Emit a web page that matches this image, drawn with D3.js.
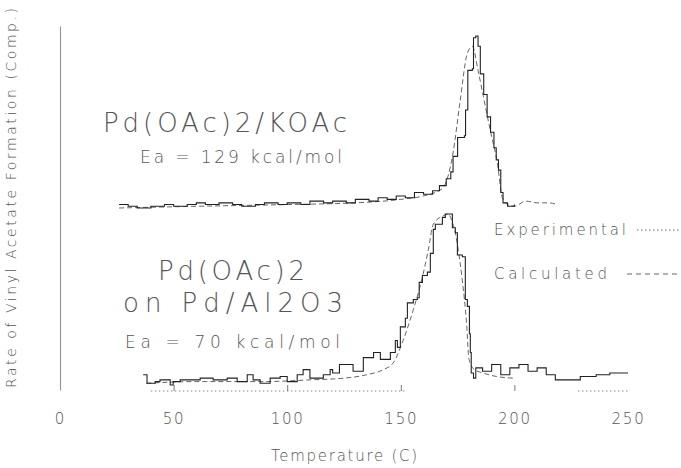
<!DOCTYPE html>
<html>
<head>
<meta charset="utf-8">
<script src="https://cdn.jsdelivr.net/npm/d3@7"></script>
<style>
  body { margin: 0; background: #fff; }
  svg { display: block; }
  text { font-family: "DejaVu Sans", sans-serif; font-weight: 200; fill: #555; }
</style>
</head>
<body>
<svg id="chart"></svg>
<script>
// temperature (C), rate (normalised to peak)
var topExperimental = [
  [26, 0.02], [30, 0.01], [34, 0.0], [40, 0.01], [46, 0.02], [50, 0.01], [56, 0.02],
  [60, 0.03], [64, 0.02], [70, 0.03], [76, 0.02], [80, 0.01], [86, 0.02], [90, 0.03],
  [96, 0.02], [100, 0.03], [106, 0.02], [110, 0.04], [116, 0.03], [120, 0.04], [126, 0.03],
  [130, 0.05], [136, 0.04], [140, 0.06], [144, 0.05], [148, 0.07], [152, 0.06], [156, 0.09],
  [160, 0.08], [164, 0.10], [167, 0.13], [170, 0.17], [172, 0.21], [173, 0.30], [175, 0.41],
  [178, 0.42], [178.5, 0.57], [179.5, 0.80], [181.5, 0.81], [182, 0.99], [183, 1.0],
  [184, 0.94], [185, 0.78], [186.5, 0.66], [188, 0.53], [189.5, 0.44], [191, 0.35],
  [192, 0.28], [193, 0.22], [194, 0.09], [195, 0.03], [197, 0.01], [200, 0.02]
];
var topCalculated = [
  [26, 0.0], [60, 0.01], [100, 0.02], [130, 0.03], [150, 0.05], [160, 0.07], [165, 0.09],
  [168.7, 0.12], [173, 0.32], [176, 0.61], [179.3, 0.90], [181.5, 0.94], [184, 0.80],
  [186.3, 0.65], [189.4, 0.45], [192.5, 0.26], [194.7, 0.06], [197, 0.02], [200, 0.01],
  [205, 0.04], [210, 0.03], [215, 0.03], [219, 0.02]
];
var bottomExperimental = [
  [36.6, 0.06], [38.3, 0.01], [41.9, 0.02], [44, 0.03], [48.5, 0.0], [49.8, 0.02], [52.9, 0.03],
  [57.3, 0.03], [61.7, 0.04], [67.4, 0.03], [73.6, 0.04], [78, 0.02], [82.4, 0.06], [85, 0.03],
  [88.1, 0.01], [92.5, 0.04], [96.9, 0.05], [100, 0.02], [104.4, 0.06], [107, 0.09], [110, 0.04],
  [115.9, 0.06], [118.9, 0.09], [120, 0.07], [123, 0.12], [129, 0.08], [133.5, 0.16],
  [138, 0.19], [141, 0.15], [145.4, 0.19], [147.6, 0.26], [148.5, 0.22], [149.8, 0.34],
  [152, 0.39], [152.9, 0.48], [155.5, 0.50], [157.3, 0.51], [158.1, 0.60], [159.5, 0.64],
  [161.7, 0.66], [163, 0.77], [164.3, 0.91], [165.2, 0.94], [168.3, 0.98], [169.6, 1.0],
  [172.7, 0.92], [174, 0.89], [174.9, 0.76], [177.1, 0.75], [178.4, 0.50], [179.3, 0.46],
  [180.2, 0.30], [180.6, 0.19], [181, 0.07], [182, 0.04], [183, 0.10], [186, 0.08],
  [190, 0.12], [194, 0.06], [198, 0.10], [202, 0.12], [206, 0.08], [210, 0.10], [214, 0.06],
  [218, 0.03], [229, 0.05], [236, 0.06], [242, 0.07], [250, 0.07]
];
var bottomCalculated = [
  [38, 0.01], [60, 0.02], [90, 0.02], [110, 0.03], [125, 0.04], [135, 0.06], [142.3, 0.09],
  [146.7, 0.13], [151, 0.26], [155.5, 0.44], [159.5, 0.63], [162.1, 0.79], [164.3, 0.94],
  [168.7, 0.99], [170.9, 1.0], [172.7, 0.95], [174, 0.89], [175.3, 0.79], [177, 0.62],
  [179, 0.35], [180, 0.15], [182.4, 0.09], [186.3, 0.07], [192, 0.05], [200, 0.04]
];
var baselineSegments = [[40, 152], [228, 250]];
var tempTicks = [0, 50, 100, 150, 200, 250];
var panelTitles = ["Pd(OAc)2/KOAc", "Pd(OAc)2", "on  Pd/Al2O3"];
var activationLabels = ["Ea  =  129  kcal/mol", "Ea  =  70  kcal/mol"];
var legendNames = ["Experimental", "Calculated"];

var width = 681, height = 468;
var svg = d3.select("#chart").attr("width", width).attr("height", height);

var x = d3.scaleLinear().domain([0, 250]).range([60, 628]);
var yTop = d3.scaleLinear().domain([0, 1]).range([208, 36]);
var yBottom = d3.scaleLinear().domain([0, 1]).range([385, 214]);
var yFrame = d3.scaleLinear().domain([0, 1]).range([390, 26]);

// y axis line
svg.append("g")
  .attr("transform", "translate(60,0)")
  .call(d3.axisLeft(yFrame).tickValues([]).tickSizeOuter(0))
  .select(".domain").attr("stroke", "#999").attr("stroke-width", 1.2);

// x axis labels with little ticks at the lower baseline
var xAxis = svg.append("g")
  .attr("transform", "translate(0,391)")
  .call(d3.axisBottom(x).tickValues(tempTicks).tickSize(-6).tickPadding(22));
xAxis.select(".domain").remove();
xAxis.selectAll(".tick line").attr("stroke", "#777");
xAxis.selectAll(".tick").filter(function(d) { return d === 0 || d === 250; })
  .select("line").remove();
xAxis.selectAll("text")
  .attr("font-family", "DejaVu Sans").attr("font-size", 15)
  .attr("letter-spacing", 1.8).attr("fill", "#555");

// dotted baseline pieces
svg.selectAll(".baseline")
  .data(baselineSegments)
  .enter().append("line")
  .attr("x1", function(d) { return x(d[0]); })
  .attr("x2", function(d) { return x(d[1]); })
  .attr("y1", 391).attr("y2", 391)
  .attr("stroke", "#888").attr("stroke-dasharray", "1.5,2.5");

var expLine = function(y) {
  return d3.line().curve(d3.curveStepAfter)
    .x(function(d) { return x(d[0]); })
    .y(function(d) { return y(d[1]); });
};
var calcLine = function(y) {
  return d3.line().curve(d3.curveMonotoneX)
    .x(function(d) { return x(d[0]); })
    .y(function(d) { return y(d[1]); });
};

svg.append("path").attr("d", calcLine(yTop)(topCalculated))
  .attr("fill", "none").attr("stroke", "#666").attr("stroke-width", 1).attr("stroke-dasharray", "5,3");
svg.append("path").attr("d", expLine(yTop)(topExperimental))
  .attr("fill", "none").attr("stroke", "#222").attr("stroke-width", 1.1);
svg.append("path").attr("d", calcLine(yBottom)(bottomCalculated))
  .attr("fill", "none").attr("stroke", "#666").attr("stroke-width", 1).attr("stroke-dasharray", "5,3");
svg.append("path").attr("d", expLine(yBottom)(bottomExperimental))
  .attr("fill", "none").attr("stroke", "#222").attr("stroke-width", 1.1);

// spread a text to a measured width
function spread(sel, len) {
  return sel.attr("textLength", len).attr("lengthAdjust", "spacing");
}

// panel texts
spread(svg.append("text").text(panelTitles[0])
  .attr("x", 103).attr("y", 132).attr("font-size", 26), 244);
spread(svg.append("text").text(activationLabels[0])
  .attr("x", 140).attr("y", 163).attr("font-size", 17), 202);
spread(svg.append("text").text(panelTitles[1])
  .attr("x", 158).attr("y", 280).attr("font-size", 26), 147);
spread(svg.append("text").text(panelTitles[2])
  .attr("x", 123).attr("y", 312).attr("font-size", 26), 220);
spread(svg.append("text").text(activationLabels[1])
  .attr("x", 125).attr("y", 348).attr("font-size", 17), 215);

// legend
var legendDash = ["1.5,2.5", "5,4"];
var legendLen = [132, 113];
var legendStart = [637, 627];
var legend = svg.selectAll(".legend")
  .data(legendNames)
  .enter().append("g")
  .attr("transform", function(d, i) { return "translate(494," + (235 + i * 44) + ")"; });
legend.append("text").text(function(d) { return d; })
  .attr("font-size", 15)
  .attr("textLength", function(d, i) { return legendLen[i]; })
  .attr("lengthAdjust", "spacing");
legend.append("line")
  .attr("x1", function(d, i) { return legendStart[i] - 494; })
  .attr("x2", 186).attr("y1", -5).attr("y2", -5)
  .attr("stroke", "#666").attr("stroke-width", 1)
  .attr("stroke-dasharray", function(d, i) { return legendDash[i]; });

// axis titles
spread(svg.append("text").text("Temperature  (C)")
  .attr("x", 271).attr("y", 461).attr("font-size", 15), 146);
spread(svg.append("text").text("Rate  of  Vinyl  Acetate  Formation  (Comp.)")
  .attr("transform", "translate(16,388) rotate(-90)")
  .attr("font-size", 14), 380);
</script>
</body>
</html>
